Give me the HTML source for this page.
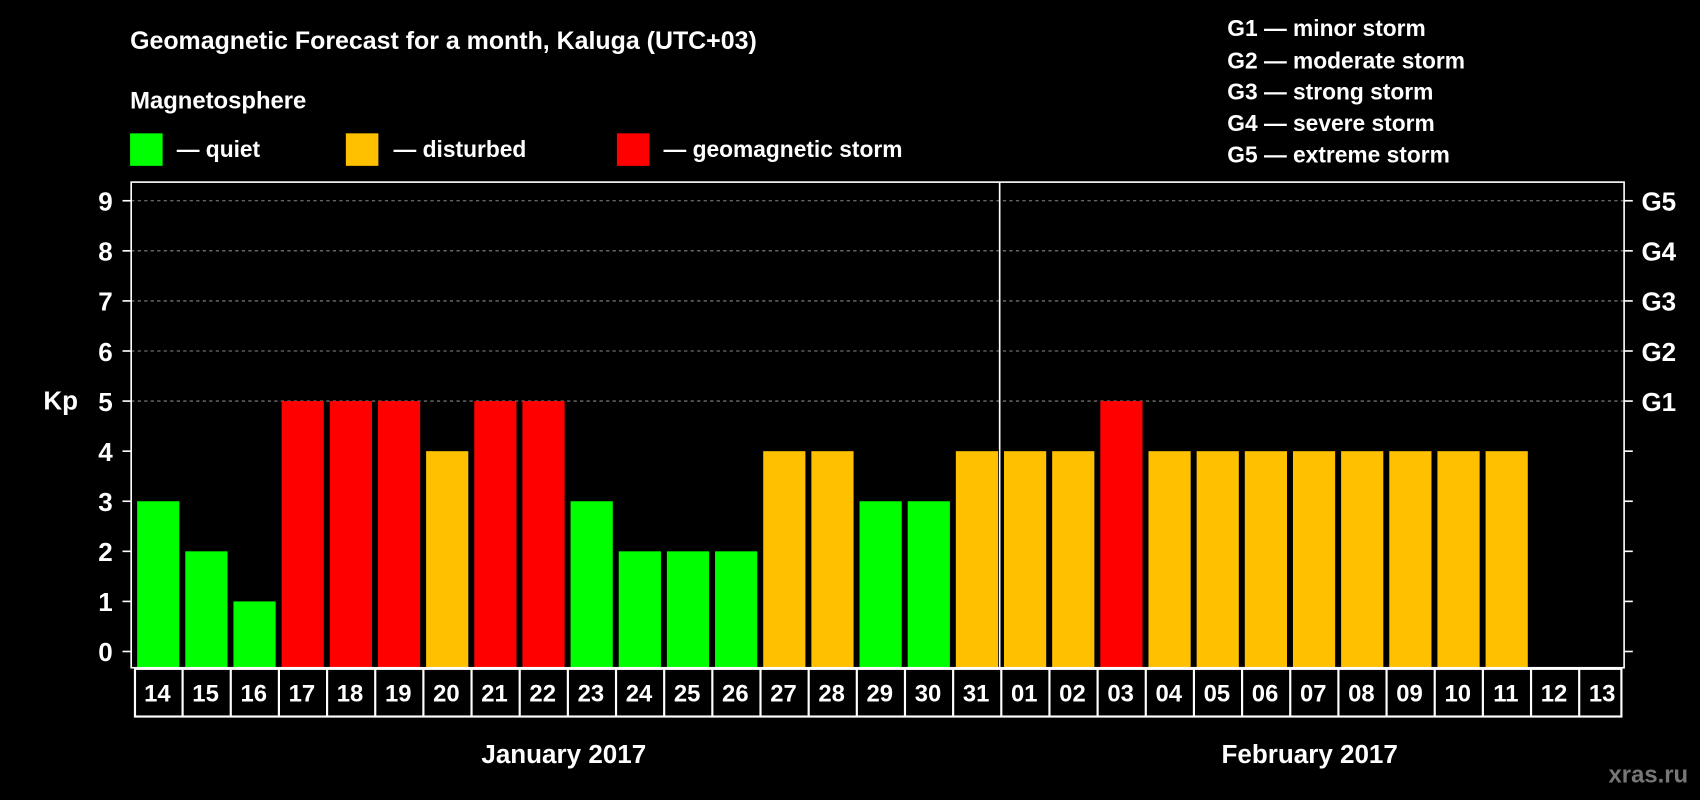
<!DOCTYPE html>
<html><head><meta charset="utf-8"><style>
html,body{margin:0;padding:0;background:#000;width:1700px;height:800px;overflow:hidden}
svg{display:block}
text{font-family:"Liberation Sans",sans-serif;fill:#fff;font-weight:bold}
</style></head><body>
<svg id="c" width="1700" height="800" viewBox="0 0 1568 738" preserveAspectRatio="none">
<rect width="1568" height="738" fill="#000"/>
<text x="120" y="45" font-size="23">Geomagnetic Forecast for a month, Kaluga (UTC+03)</text>
<text x="120" y="100" font-size="22">Magnetosphere</text>
<g><rect x="120" y="123" width="30" height="30" fill="#00ff00"/><text x="163" y="145" font-size="21">— quiet</text></g>
<g><rect x="319" y="123" width="30" height="30" fill="#ffc000"/><text x="363" y="145" font-size="21">— disturbed</text></g>
<g><rect x="569" y="123" width="30" height="30" fill="#ff0000"/><text x="612" y="145" font-size="21">— geomagnetic storm</text></g>
<g font-size="21">
<text x="1132" y="33">G1 — minor storm</text>
<text x="1132" y="63">G2 — moderate storm</text>
<text x="1132" y="92">G3 — strong storm</text>
<text x="1132" y="121">G4 — severe storm</text>
<text x="1132" y="150">G5 — extreme storm</text>
</g>
<text x="40" y="378" font-size="24">Kp</text>
<g id="grid"></g><g id="bars"></g><g id="axes"></g>
<text x="520" y="704" font-size="24" text-anchor="middle">January 2017</text>
<text x="1208" y="704" font-size="24" text-anchor="middle">February 2017</text>
<text x="1557" y="722" font-size="22" text-anchor="end" style="fill:#777">xras.ru</text>
</svg>
<script>
const days=["14","15","16","17","18","19","20","21","22","23","24","25","26","27","28","29","30","31","01","02","03","04","05","06","07","08","09","10","11","12","13"];
const kp=[3,2,1,5,5,5,4,5,5,3,2,2,2,4,4,3,3,4,4,4,5,4,4,4,4,4,4,4,4,null,null];
const yTicks=[0,1,2,3,4,5,6,7,8,9];
const gLabels=["G1","G2","G3","G4","G5"];
const NS="http://www.w3.org/2000/svg";
const L=121,R=1498,T=168,B=616;
const step=(R-L)/days.length;
const y=v=>601-v*46.2;
const x=i=>L+i*step;
function mk(p,tag,a){const e=document.createElementNS(NS,tag);for(const k in a)e.setAttribute(k,a[k]);p.appendChild(e);return e;}
const grid=document.getElementById('grid'),bars=document.getElementById('bars'),axes=document.getElementById('axes');
yTicks.forEach(v=>{
  if(v>=5){const g=mk(grid,'line',{x1:L,x2:R,y1:y(v),y2:y(v),stroke:'#888','stroke-dasharray':'3,3','stroke-width':1});
  
  }
  mk(axes,'line',{x1:L-8,x2:L,y1:y(v),y2:y(v),stroke:'#fff','stroke-width':1.5});
  mk(axes,'line',{x1:R,x2:R+8,y1:y(v),y2:y(v),stroke:'#fff','stroke-width':1.5});
  const t=mk(axes,'text',{x:104,y:y(v)+9,'font-size':24,'text-anchor':'end'});t.textContent=v;
  
  
});
gLabels.forEach((g,i)=>{const t=mk(axes,'text',{x:1514,y:y(5+i)+9,'font-size':24});t.textContent=g;
  
  });
kp.forEach((v,i)=>{if(v==null)return;
  const c=v>=5?'#ff0000':v>=4?'#ffc000':'#00ff00';
  const r=mk(bars,'rect',{x:x(i)+5.5,y:y(v),width:step-5.5,height:B-y(v),fill:c});
  
  
});
mk(axes,'rect',{x:L,y:T,width:R-L,height:B-T,fill:'none',stroke:'#fff','stroke-width':1.5});
mk(axes,'line',{x1:x(18)+1.5,x2:x(18)+1.5,y1:T,y2:B,stroke:'#fff','stroke-width':1.5});
mk(axes,'rect',{x:124.5,y:617,width:1371,height:44,fill:'none',stroke:'#fff','stroke-width':2});
days.forEach((d,i)=>{
  if(i>0)mk(axes,'line',{x1:x(i)+3,x2:x(i)+3,y1:617,y2:661,stroke:'#fff','stroke-width':2});
  const t=mk(axes,'text',{x:x(i)+step/2+2,y:647,'font-size':22,'text-anchor':'middle'});t.textContent=d;
  
  
});
</script>
</body></html>
